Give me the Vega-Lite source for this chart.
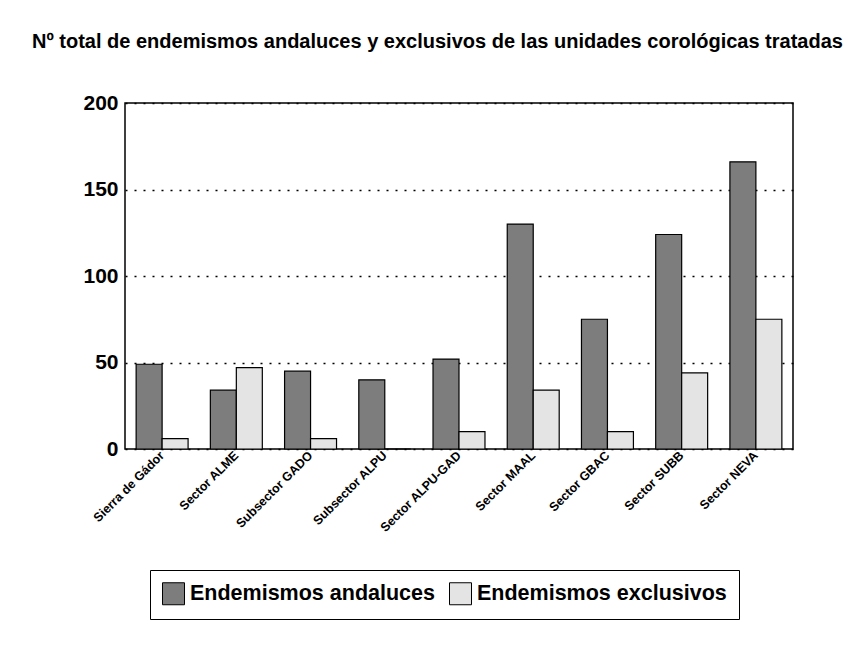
{
  "$schema": "https://vega.github.io/schema/vega-lite/v6.json",
  "width": 668,
  "height": 346,
  "autosize": {"type": "none"},
  "padding": {"left": 125, "top": 103, "right": 75, "bottom": 205},
  "background": "white",
  "title": {
    "text": "Nº total de endemismos andaluces y exclusivos de las unidades corológicas tratadas",
    "anchor": "start",
    "frame": "group",
    "dx": -93,
    "offset": 24,
    "baseline": "alphabetic",
    "font": "Liberation Sans",
    "fontSize": 20,
    "fontWeight": "bold",
    "color": "black"
  },
  "config": {
    "view": {"stroke": "black", "strokeWidth": 1.5},
    "font": "Liberation Sans"
  },
  "data": {
    "values": [
      {"unidad": "Sierra de Gádor", "tipo": "Endemismos andaluces", "valor": 49},
      {"unidad": "Sierra de Gádor", "tipo": "Endemismos exclusivos", "valor": 6},
      {"unidad": "Sector ALME", "tipo": "Endemismos andaluces", "valor": 34},
      {"unidad": "Sector ALME", "tipo": "Endemismos exclusivos", "valor": 47},
      {"unidad": "Subsector GADO", "tipo": "Endemismos andaluces", "valor": 45},
      {"unidad": "Subsector GADO", "tipo": "Endemismos exclusivos", "valor": 6},
      {"unidad": "Subsector ALPU", "tipo": "Endemismos andaluces", "valor": 40},
      {"unidad": "Subsector ALPU", "tipo": "Endemismos exclusivos", "valor": 0},
      {"unidad": "Sector ALPU-GAD", "tipo": "Endemismos andaluces", "valor": 52},
      {"unidad": "Sector ALPU-GAD", "tipo": "Endemismos exclusivos", "valor": 10},
      {"unidad": "Sector MAAL", "tipo": "Endemismos andaluces", "valor": 130},
      {"unidad": "Sector MAAL", "tipo": "Endemismos exclusivos", "valor": 34},
      {"unidad": "Sector GBAC", "tipo": "Endemismos andaluces", "valor": 75},
      {"unidad": "Sector GBAC", "tipo": "Endemismos exclusivos", "valor": 10},
      {"unidad": "Sector SUBB", "tipo": "Endemismos andaluces", "valor": 124},
      {"unidad": "Sector SUBB", "tipo": "Endemismos exclusivos", "valor": 44},
      {"unidad": "Sector NEVA", "tipo": "Endemismos andaluces", "valor": 166},
      {"unidad": "Sector NEVA", "tipo": "Endemismos exclusivos", "valor": 75}
    ]
  },
  "mark": {"type": "bar", "stroke": "black", "strokeWidth": 1.2},
  "encoding": {
    "x": {
      "field": "unidad",
      "type": "nominal",
      "sort": null,
      "scale": {"paddingInner": 0.3, "paddingOuter": 0.15},
      "axis": {
        "title": null,
        "labelAngle": -45,
        "labelAlign": "right",
        "labelBaseline": "middle",
        "labelFontSize": 12.5,
        "labelFontWeight": "bold",
        "labelColor": "black",
        "labelPadding": 4,
        "ticks": false,
        "domain": false
      }
    },
    "xOffset": {
      "field": "tipo",
      "sort": ["Endemismos andaluces", "Endemismos exclusivos"]
    },
    "y": {
      "field": "valor",
      "type": "quantitative",
      "scale": {"domain": [0, 200]},
      "axis": {
        "title": null,
        "values": [0, 50, 100, 150, 200],
        "grid": true,
        "gridColor": "black",
        "gridDash": [2, 7],
        "gridWidth": 1.5,
        "ticks": false,
        "domain": false,
        "labelFontSize": 21,
        "labelFontWeight": "bold",
        "labelColor": "black",
        "labelPadding": 7
      }
    },
    "color": {
      "field": "tipo",
      "type": "nominal",
      "scale": {
        "domain": ["Endemismos andaluces", "Endemismos exclusivos"],
        "range": ["#7d7d7d", "#e4e4e4"]
      },
      "legend": {
        "title": null,
        "orient": "none",
        "legendX": 25,
        "legendY": 467,
        "direction": "horizontal",
        "strokeColor": "black",
        "padding": 12,
        "symbolType": "square",
        "symbolSize": 484,
        "symbolStrokeColor": "black",
        "symbolStrokeWidth": 1,
        "symbolOpacity": 1,
        "labelFontSize": 21.5,
        "labelFontWeight": "bold",
        "labelColor": "black",
        "labelOffset": 5,
        "columnPadding": 12,
        "labelLimit": 400
      }
    }
  }
}
